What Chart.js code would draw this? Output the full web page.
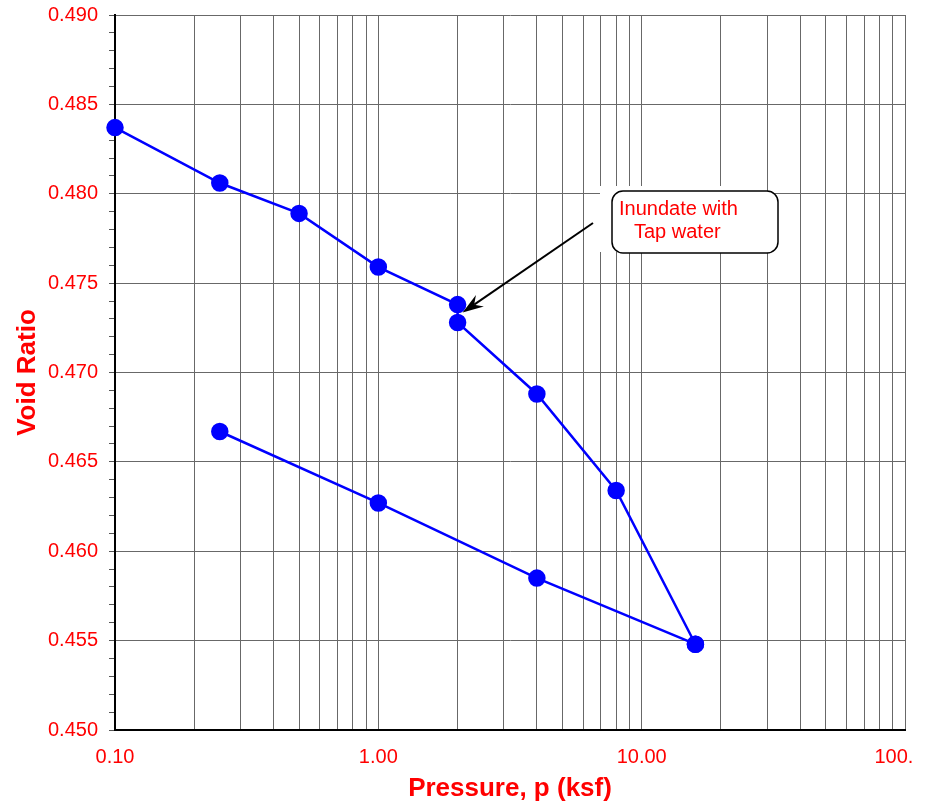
<!DOCTYPE html>
<html lang="en">
<head>
  <meta charset="UTF-8">
  <title>Void Ratio vs Pressure</title>
  <script src="https://cdn.jsdelivr.net/npm/chart.js"></script>
  <style>
    body {
      margin: 0;
      background: #ffffff;
    }
    #wrap {
      width: 912px;
      height: 804px;
      position: relative;
    }
  </style>
</head>
<body>

  <div id="wrap">
    <canvas id="consolChart"></canvas>
  </div>

  <script>
    // Loading branch (inundated at 2 ksf) and unloading branch
    const loadPressure = [0.1, 0.25, 0.5, 1.0, 2.0, 2.0, 4.0, 8.0, 16.0];
    const loadVoid     = [0.4837, 0.4806, 0.4789, 0.4759, 0.4738, 0.4728, 0.4688, 0.4634, 0.4548];
    const unloadPressure = [16.0, 4.0, 1.0, 0.25];
    const unloadVoid     = [0.4548, 0.4585, 0.4627, 0.4667];

    // Axis ticks
    const xDecades = [0.1, 1, 10, 100];
    const xTickLabels = ['0.10', '1.00', '10.00', '100.00'];
    const yMin = 0.450, yMax = 0.490, yMinorStep = 0.001, yMajorEvery = 5;

    const noteLines = ['Inundate with', 'Tap water'];
    const notePressure = 2.0, noteVoid = 0.4738;

    const red = '#ff0000';
    const blue = '#0000ff';
    const gridGray = '#686868';
    const fontFam = "'Liberation Sans', Arial, sans-serif";

    const toPoints = (xs, ys) => xs.map((x, i) => ({ x: x, y: ys[i] }));

    // callout box with arrow pointing at the inundation point
    const calloutPlugin = {
      id: 'callout',
      afterDatasetsDraw(chart) {
        const ctx = chart.ctx;
        const xs = chart.scales.x, ys = chart.scales.y;
        const px = xs.getPixelForValue(notePressure);
        const py = ys.getPixelForValue(noteVoid);

        ctx.save();
        // white backing over the grid
        ctx.fillStyle = '#ffffff';
        ctx.fillRect(600, 186, 160, 66);

        // rounded frame
        const bx = 612, by = 191, bw = 166, bh = 62, r = 11;
        ctx.beginPath();
        ctx.moveTo(bx + r, by);
        ctx.lineTo(bx + bw - r, by);
        ctx.arcTo(bx + bw, by, bx + bw, by + r, r);
        ctx.lineTo(bx + bw, by + bh - r);
        ctx.arcTo(bx + bw, by + bh, bx + bw - r, by + bh, r);
        ctx.lineTo(bx + r, by + bh);
        ctx.arcTo(bx, by + bh, bx, by + bh - r, r);
        ctx.lineTo(bx, by + r);
        ctx.arcTo(bx, by, bx + r, by, r);
        ctx.closePath();
        ctx.fillStyle = '#ffffff';
        ctx.fill();
        ctx.lineWidth = 1.5;
        ctx.strokeStyle = '#000000';
        ctx.stroke();

        ctx.fillStyle = red;
        ctx.font = '20px ' + fontFam;
        ctx.textAlign = 'left';
        ctx.textBaseline = 'alphabetic';
        ctx.fillText(noteLines[0], 619, 215);
        ctx.fillText(noteLines[1], 634, 238);

        // arrow
        const tx = px + 5, ty = py + 8;
        const sx = 593, sy = 223;
        const ang = Math.atan2(ty - sy, tx - sx);
        const cos = Math.cos(ang), sin = Math.sin(ang);
        const headLen = 21, headW = 7, notch = 7;
        const hx = tx - headLen * cos, hy = ty - headLen * sin;
        ctx.strokeStyle = '#000000';
        ctx.lineWidth = 2;
        ctx.beginPath();
        ctx.moveTo(sx, sy);
        ctx.lineTo(hx + notch * cos, hy + notch * sin);
        ctx.stroke();
        ctx.fillStyle = '#000000';
        ctx.beginPath();
        ctx.moveTo(tx, ty);
        ctx.lineTo(hx - headW * sin, hy + headW * cos);
        ctx.lineTo(hx + notch * cos, hy + notch * sin);
        ctx.lineTo(hx + headW * sin, hy - headW * cos);
        ctx.closePath();
        ctx.fill();
        ctx.restore();
      }
    };

    const lineStyle = {
      borderColor: blue,
      backgroundColor: blue,
      borderWidth: 2.5,
      pointRadius: 7.5,
      pointHoverRadius: 7.5,
      showLine: true,
      tension: 0,
      clip: false
    };

    const ctx = document.getElementById('consolChart').getContext('2d');
    new Chart(ctx, {
      type: 'scatter',
      data: {
        datasets: [
          Object.assign({ label: 'Loading', data: toPoints(loadPressure, loadVoid) }, lineStyle),
          Object.assign({ label: 'Unloading', data: toPoints(unloadPressure, unloadVoid) }, lineStyle)
        ]
      },
      options: {
        responsive: true,
        maintainAspectRatio: false,
        animation: false,
        layout: { autoPadding: false, padding: { top: 15, right: 7, left: 0, bottom: 0 } },
        plugins: {
          legend: { display: false },
          tooltip: { enabled: false }
        },
        scales: {
          x: {
            type: 'logarithmic',
            min: 0.1,
            max: 100,
            afterBuildTicks(scale) {
              const t = [];
              for (let d = 0; d < xDecades.length - 1; d++) {
                for (let k = 1; k <= 9; k++) t.push({ value: xDecades[d] * k });
              }
              t.push({ value: xDecades[xDecades.length - 1] });
              scale.ticks = t;
            },
            afterFit(scale) {
              scale.height = 74;
              scale.paddingLeft = 0;
              scale.paddingRight = 0;
            },
            ticks: {
              autoSkip: false,
              maxRotation: 0,
              minRotation: 0,
              padding: 15,
              color: red,
              font: { family: fontFam, size: 20 },
              callback(value) {
                const i = xDecades.findIndex(d => Math.abs(d - value) < d * 1e-6);
                return i >= 0 ? xTickLabels[i] : '';
              }
            },
            grid: {
              color: gridGray,
              lineWidth: 1,
              drawTicks: false
            },
            border: { color: '#000000', width: 2 },
            title: {
              display: true,
              text: 'Pressure, p (ksf)',
              color: red,
              font: { family: fontFam, size: 26, weight: 'bold' },
              padding: { top: 0, bottom: 0 }
            }
          },
          y: {
            min: yMin,
            max: yMax,
            afterBuildTicks(scale) {
              const t = [];
              const n = Math.round((yMax - yMin) / yMinorStep);
              for (let i = 0; i <= n; i++) t.push({ value: +(yMin + i * yMinorStep).toFixed(3) });
              scale.ticks = t;
            },
            afterFit(scale) {
              scale.width = 115;
              scale.paddingTop = 0;
              scale.paddingBottom = 0;
            },
            ticks: {
              autoSkip: false,
              padding: 11,
              color: red,
              font: { family: fontFam, size: 20 },
              callback(value) {
                return Math.round(value / yMinorStep) % yMajorEvery === 0 ? value.toFixed(3) : '';
              }
            },
            grid: {
              lineWidth: 1,
              tickLength: 6,
              tickColor: '#555555',
              color(c) {
                if (!c.tick) return gridGray;
                return Math.round(c.tick.value / yMinorStep) % yMajorEvery === 0 ? gridGray : 'rgba(0,0,0,0)';
              }
            },
            border: { color: '#000000', width: 2 },
            title: {
              display: true,
              text: 'Void Ratio',
              color: red,
              font: { family: fontFam, size: 26, weight: 'bold' },
              padding: { top: 12, bottom: 0 }
            }
          }
        }
      },
      plugins: [calloutPlugin]
    });
  </script>

</body>
</html>
